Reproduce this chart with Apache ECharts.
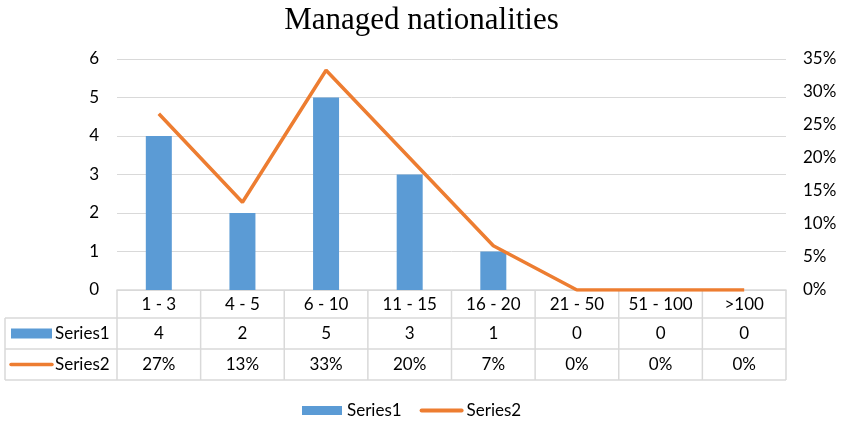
<!DOCTYPE html>
<html>
<head>
<meta charset="utf-8">
<script src="https://cdn.jsdelivr.net/npm/echarts@6/dist/echarts.min.js"></script>
<style>
  html, body { margin: 0; padding: 0; background: #fff; }
  #chart { width: 843px; height: 422px; }
</style>
</head>
<body>
<div id="chart"></div>
<script>
// data
var categories = ["1 - 3", "4 - 5", "6 - 10", "11 - 15", "16 - 20", "21 - 50", "51 - 100", ">100"];
var series1 = [4, 2, 5, 3, 1, 0, 0, 0];
var series2 = [0.267, 0.133, 0.333, 0.2, 0.067, 0, 0, 0];
var series2Labels = ["27%", "13%", "33%", "20%", "7%", "0%", "0%", "0%"];

var font = "Lato, 'Open Sans', sans-serif";
var fs = 17;
var blue = "#5b9bd5";
var orange = "#ed7d31";
var gridColor = "#d9d9d9";

var myChart = echarts.init(document.getElementById("chart"));

var option = {
  animation: false,
  title: {
    text: "Managed nationalities",
    left: "center",
    top: 0,
    textStyle: { fontFamily: "'Liberation Serif', 'Times New Roman', serif", fontSize: 31, fontWeight: "normal", color: "#000" }
  },
  legend: {
    bottom: 3,
    left: 302,
    itemGap: 18,
    padding: 0,
    textStyle: { fontFamily: font, fontSize: fs, color: "#000" },
    data: [
      { name: "Series1", icon: "rect", itemStyle: { color: blue } },
      { name: "Series2", itemStyle: { opacity: 0 }, lineStyle: { color: orange, width: 4, cap: "round" } }
    ],
    itemWidth: 40,
    itemHeight: 9
  },
  grid: { left: 117, right: 57, top: 59, bottom: 132 },
  xAxis: {
    type: "category",
    data: categories,
    axisLine: { lineStyle: { color: gridColor, width: 1.5 } },
    axisTick: { show: false },
    axisLabel: { show: false }
  },
  yAxis: [
    {
      type: "value", min: 0, max: 6, interval: 1,
      axisLine: { show: false }, axisTick: { show: false },
      splitLine: { lineStyle: { color: gridColor } },
      axisLabel: { fontFamily: font, fontSize: fs, color: "#000", margin: 18 }
    },
    {
      type: "value", min: 0, max: 0.35, interval: 0.05,
      axisLine: { show: false }, axisTick: { show: false },
      splitLine: { show: false },
      axisLabel: {
        fontFamily: font, fontSize: fs, color: "#000", margin: 17,
        formatter: function (v) { return Math.round(v * 100) + "%"; }
      }
    }
  ],
  series: [
    {
      name: "Series1", type: "bar", data: series1, barWidth: 26,
      itemStyle: { color: blue }
    },
    {
      name: "Series2", type: "line", yAxisIndex: 1, data: series2,
      symbol: "none", lineStyle: { color: orange, width: 3.5 },
      itemStyle: { color: orange }
    }
  ]
};

myChart.setOption(option);

// data table under the axis
(function () {
  var g = [];
  var x0 = myChart.convertToPixel({ xAxisIndex: 0 }, 0);
  var x1 = myChart.convertToPixel({ xAxisIndex: 0 }, 1);
  var band = x1 - x0;
  var left = x0 - band / 2;
  var right = left + band * categories.length;
  var yTop = myChart.convertToPixel({ yAxisIndex: 0 }, 0);
  var r1 = yTop + 28, r2 = r1 + 31, r3 = r2 + 31;
  var tableLeft = 5;
  var ls = { stroke: gridColor, lineWidth: 1.5 };

  function line(xa, ya, xb, yb) {
    g.push({ type: "line", shape: { x1: xa, y1: ya, x2: xb, y2: yb }, style: ls, silent: true });
  }
  function text(str, x, y, align) {
    g.push({ type: "text", x: x, y: y, style: { text: str, fontFamily: font, fontSize: fs, fill: "#000", align: align || "center", verticalAlign: "middle" } });
  }

  [r1, r2, r3].forEach(function (y) { line(tableLeft, y, right, y); });
  for (var i = 0; i <= categories.length; i++) {
    var xx = left + band * i;
    line(xx, yTop, xx, r3);
  }
  line(tableLeft, r1, tableLeft, r3);

  categories.forEach(function (c, i) {
    var cx = myChart.convertToPixel({ xAxisIndex: 0 }, i);
    text(c, cx, (yTop + r1) / 2 + 1);
    text(String(series1[i]), cx, (r1 + r2) / 2);
    text(series2Labels[i], cx, (r2 + r3) / 2);
  });

  // row keys
  g.push({ type: "rect", shape: { x: 11, y: (r1 + r2) / 2 - 5, width: 41, height: 10 }, style: { fill: blue } });
  text("Series1", 55, (r1 + r2) / 2, "left");
  g.push({ type: "line", shape: { x1: 11, y1: (r2 + r3) / 2, x2: 52, y2: (r2 + r3) / 2 }, style: { stroke: orange, lineWidth: 3.5, lineCap: "round" } });
  text("Series2", 55, (r2 + r3) / 2, "left");

  myChart.setOption({ graphic: g });
})();
</script>
</body>
</html>
